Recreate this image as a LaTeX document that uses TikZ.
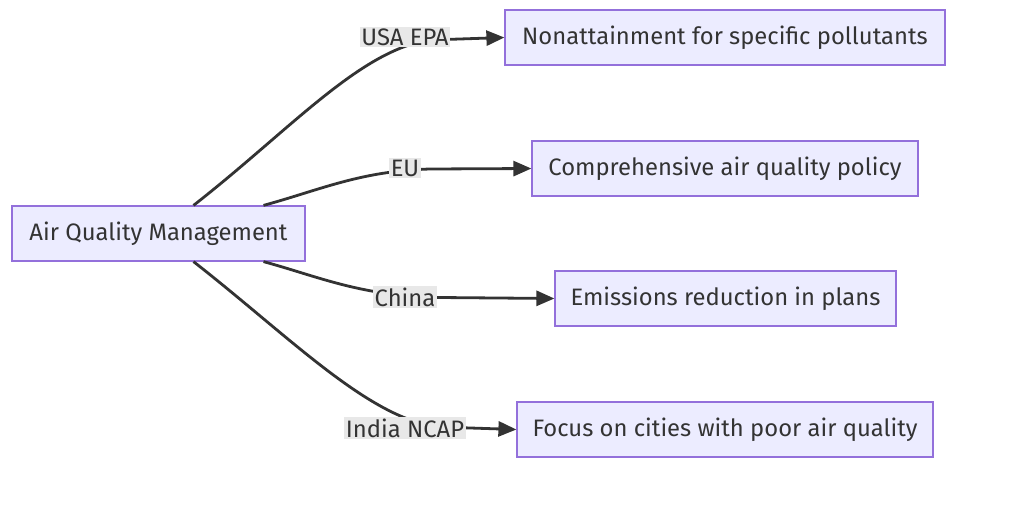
\documentclass[tikz,border=0pt]{standalone}
\usepackage{fontspec}
\setmainfont{Fira Sans}
\usetikzlibrary{arrows.meta}
\definecolor{boxfill}{HTML}{ECECFF}
\definecolor{boxline}{HTML}{9370DB}
\definecolor{edgeline}{HTML}{333333}
\definecolor{labelbg}{HTML}{E8E8E8}
\begin{document}
\begin{tikzpicture}[x=1pt,y=-1pt,
		box/.style={draw=boxline, fill=boxfill, line width=1.2pt, minimum height=55pt, inner sep=0pt, text=edgeline, font=\fontsize{23.8}{28}\selectfont},
		elabel/.style={fill=labelbg, inner sep=1.5pt, text=edgeline, font=\fontsize{23.8}{28}\selectfont},
		flow/.style={draw=edgeline, line width=2.8pt, -{Triangle[length=18pt,width=15pt]}}]
		\useasboundingbox (0,0) rectangle (1017,528);

		\node[box, minimum width=293pt] (aqm) at (158.5,233.5) {Air Quality Management};

		\node[box, minimum width=440pt] (usa) at (725,37.5) {Nonattainment for specific pollutants};
		\node[box, minimum width=386pt] (eu) at (725,168.5) {Comprehensive air quality policy};
		\node[box, minimum width=341pt] (china) at (725.5,298.5) {Emissions reduction in plans};
		\node[box, minimum width=416pt] (india) at (725,429.5) {Focus on cities with poor air quality};

		% curved connectors, labels drawn on top
		\draw[flow] ([xshift=35pt]aqm.north) .. controls (290,130) and (360,50) .. (430,40) -- (usa.west);
		\draw[flow] ([xshift=105pt]aqm.north) .. controls (320,190) and (360,171) .. (430,169) -- (eu.west);
		\draw[flow] ([xshift=105pt]aqm.south) .. controls (320,277) and (360,296) .. (440,297.5) -- (china.west);
		\draw[flow] ([xshift=35pt]aqm.south) .. controls (290,337) and (370,420) .. (440,427) -- (india.west);

		\node[elabel] (lusa) at (405,37) {USA EPA};
		\node[elabel] (leu) at (405,168) {EU};
		\node[elabel] (lchina) at (405,297) {China};
		\node[elabel] (lindia) at (405,428) {India NCAP};
	\end{tikzpicture}
\end{document}
